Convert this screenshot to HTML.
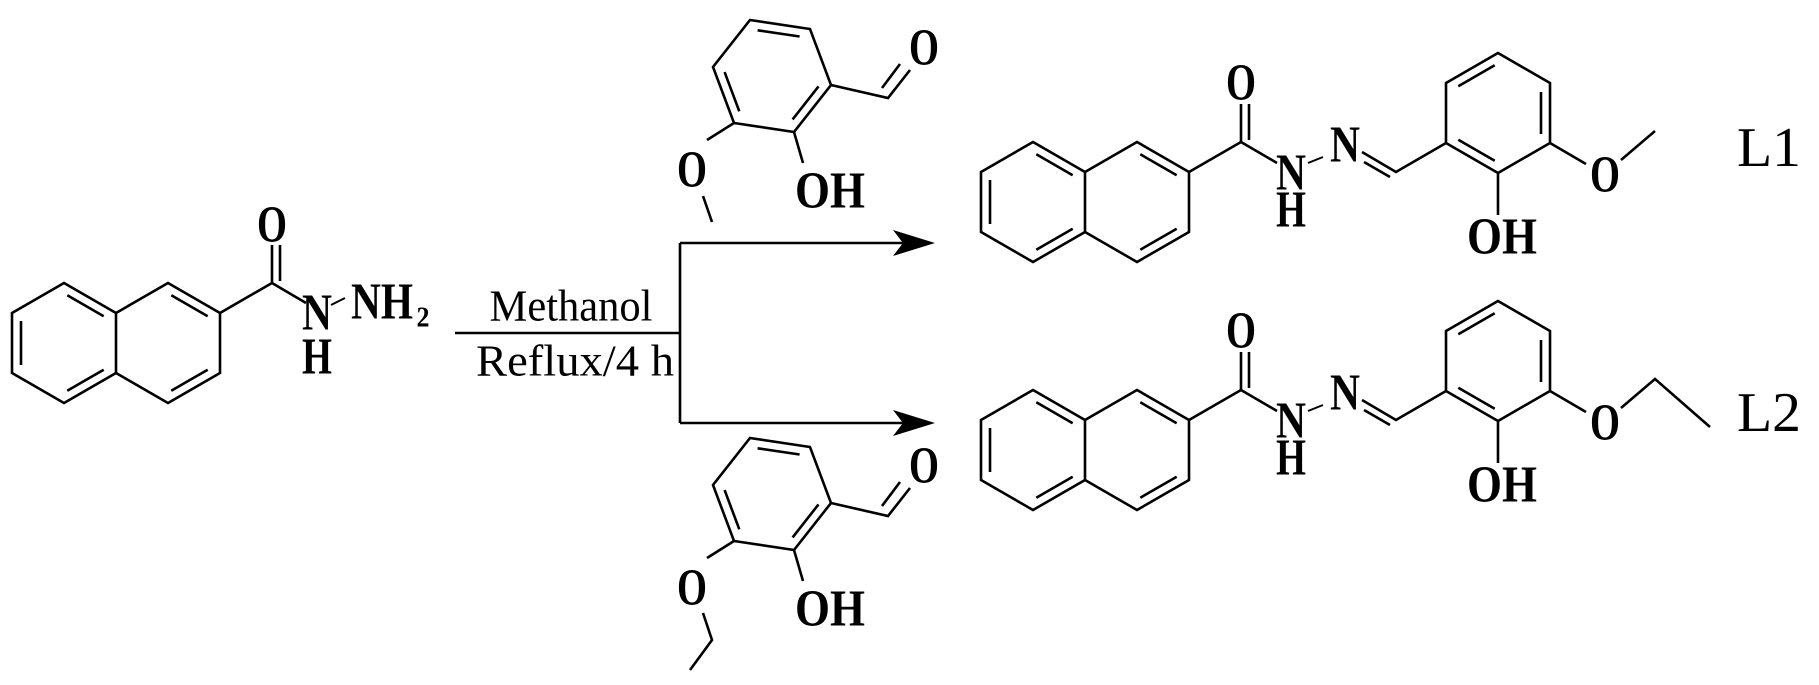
<!DOCTYPE html>
<html><head><meta charset="utf-8"><style>
html,body{margin:0;padding:0;background:#fff;}
svg{display:block;}
text{font-family:"Liberation Serif",serif;fill:#000;text-anchor:middle;dominant-baseline:central;}
</style></head><body>
<svg width="1819" height="685" viewBox="0 0 1819 685" xmlns="http://www.w3.org/2000/svg">
<g stroke="#000" stroke-width="2.6" fill="none" stroke-linejoin="miter">
<g transform="translate(64,343)">
  <path d="M0,-60 L52,-30 L104,-60 L156,-30 L156,30 L104,60 L52,30 L0,60 L-52,30 L-52,-30 Z M52,-30 L52,30"/>
  <path d="M-43,-22 L-43,22 M3.3,-47.7 L39.7,-26.7 M3.3,47.7 L39.7,26.7 M107.3,-47.7 L143.7,-26.7 M107.3,47.7 L143.7,26.7"/>
  <path d="M156,-30 L208,-60 L208,-98 M216,-62 L216,-98 M208,-60 L242,-40"/>
  <path d="M267,-38 L281,-45" stroke-width="2"/>
</g>
<path d="M455,333 L680,333 M680,243 L680,423 M680,243 L905,243 M680,423 L905,423"/>
</g>
<polygon points="935,243 893,230 903,243 893,256" fill="#000"/>
<polygon points="935,423 893,410 903,423 893,436" fill="#000"/>
<g font-weight="bold" font-size="52">
<text x="272" y="225" textLength="30" lengthAdjust="spacingAndGlyphs">O</text>
<text x="317" y="313" textLength="30" lengthAdjust="spacingAndGlyphs">N</text>
<text x="317" y="357" textLength="30" lengthAdjust="spacingAndGlyphs">H</text>
<text x="382" y="302" textLength="62" lengthAdjust="spacingAndGlyphs">NH</text>
<text x="423" y="318" font-size="28" textLength="13" lengthAdjust="spacingAndGlyphs">2</text>
</g>
<text x="571" y="306" font-size="44" textLength="163" lengthAdjust="spacingAndGlyphs">Methanol</text>
<text x="575" y="361" font-size="44" textLength="198" lengthAdjust="spacingAndGlyphs">Reflux/4 h</text>

<g>
<g stroke="#000" stroke-width="2.6" fill="none">
  <path d="M750,20 L810,29 L831,85 L794,132 L734,123 L713,67 Z"/>
  <path d="M757.6,30.3 L799.6,36.5 M724.6,72.1 L739.3,111.3 M818.5,86.4 L792.6,119.4"/>
  <path d="M831,85 L888,98 L910,70 M882,88 L900,64"/>
  <path d="M794,132 L803,163 M734,123 L707,140"/>
  <path d="M703,196 L712,222"/>
</g>
<g font-weight="bold" font-size="52">
<text x="924" y="48" textLength="30" lengthAdjust="spacingAndGlyphs">O</text>
<text x="830" y="191" textLength="70" lengthAdjust="spacingAndGlyphs">OH</text>
<text x="692" y="170" textLength="30" lengthAdjust="spacingAndGlyphs">O</text>
</g>
</g>
<g transform="translate(0,418)">
<g stroke="#000" stroke-width="2.6" fill="none">
  <path d="M750,20 L810,29 L831,85 L794,132 L734,123 L713,67 Z"/>
  <path d="M757.6,30.3 L799.6,36.5 M724.6,72.1 L739.3,111.3 M818.5,86.4 L792.6,119.4"/>
  <path d="M831,85 L888,98 L910,70 M882,88 L900,64"/>
  <path d="M794,132 L803,163 M734,123 L707,140"/>
  <path d="M703,195 L712,222 L690,252"/>
</g>
<g font-weight="bold" font-size="52">
<text x="924" y="48" textLength="30" lengthAdjust="spacingAndGlyphs">O</text>
<text x="830" y="191" textLength="70" lengthAdjust="spacingAndGlyphs">OH</text>
<text x="692" y="170" textLength="30" lengthAdjust="spacingAndGlyphs">O</text>
</g>
</g>

<g transform="translate(1033,202)">
<g stroke="#000" stroke-width="2.6" fill="none">
  <path d="M0,-60 L52,-30 L104,-60 L156,-30 L156,30 L104,60 L52,30 L0,60 L-52,30 L-52,-30 Z M52,-30 L52,30"/>
  <path d="M-43,-22 L-43,22 M3.3,-47.7 L39.7,-26.7 M3.3,47.7 L39.7,26.7 M107.3,-47.7 L143.7,-26.7 M107.3,47.7 L143.7,26.7"/>
  <path d="M156,-30 L208,-60 L208,-98 M216,-62 L216,-98 M208,-60 L244,-39"/>
  <path d="M275,-39 L290,-45" stroke-width="2"/>
</g>
<g font-weight="bold" font-size="52">
<text x="208" y="-119" textLength="30" lengthAdjust="spacingAndGlyphs">O</text>
<text x="258" y="-29" textLength="30" lengthAdjust="spacingAndGlyphs">N</text>
<text x="258" y="8" textLength="30" lengthAdjust="spacingAndGlyphs">H</text>
</g>
</g>
<g transform="translate(1041,202)">
<g stroke="#000" stroke-width="2.6" fill="none">
  <path d="M321,-50 L355,-30 L405,-59 M323,-40 L349,-25"/>
  <path d="M405,-59 L405,-119 L457,-149 L509,-119 L509,-59 L457,-29 Z"/>
  <path d="M417.3,-115.7 L453.7,-136.7 M500,-110 L500,-68 M417.3,-62.3 L453.7,-41.3"/>
  <path d="M457,-29 L457,13 M509,-59 L545,-38 M580,-42 L614,-71"/>
</g>
<g font-weight="bold" font-size="52">
<text x="304" y="-57" textLength="30" lengthAdjust="spacingAndGlyphs">N</text>
<text x="461" y="35" textLength="70" lengthAdjust="spacingAndGlyphs">OH</text>
<text x="564" y="-27" textLength="30" lengthAdjust="spacingAndGlyphs">O</text>
</g>
</g>
<text x="1769" y="148" font-size="56" textLength="64" lengthAdjust="spacingAndGlyphs">L1</text>

<g transform="translate(1033,450)">
<g stroke="#000" stroke-width="2.6" fill="none">
  <path d="M0,-60 L52,-30 L104,-60 L156,-30 L156,30 L104,60 L52,30 L0,60 L-52,30 L-52,-30 Z M52,-30 L52,30"/>
  <path d="M-43,-22 L-43,22 M3.3,-47.7 L39.7,-26.7 M3.3,47.7 L39.7,26.7 M107.3,-47.7 L143.7,-26.7 M107.3,47.7 L143.7,26.7"/>
  <path d="M156,-30 L208,-60 L208,-98 M216,-62 L216,-98 M208,-60 L244,-39"/>
  <path d="M275,-39 L290,-45" stroke-width="2"/>
</g>
<g font-weight="bold" font-size="52">
<text x="208" y="-119" textLength="30" lengthAdjust="spacingAndGlyphs">O</text>
<text x="258" y="-29" textLength="30" lengthAdjust="spacingAndGlyphs">N</text>
<text x="258" y="8" textLength="30" lengthAdjust="spacingAndGlyphs">H</text>
</g>
</g>
<g transform="translate(1041,450)">
<g stroke="#000" stroke-width="2.6" fill="none">
  <path d="M321,-50 L355,-30 L405,-59 M323,-40 L349,-25"/>
  <path d="M405,-59 L405,-119 L457,-149 L509,-119 L509,-59 L457,-29 Z"/>
  <path d="M417.3,-115.7 L453.7,-136.7 M500,-110 L500,-68 M417.3,-62.3 L453.7,-41.3"/>
  <path d="M457,-29 L457,13 M509,-59 L545,-38 M580,-42 L614,-71 L669,-23"/>
</g>
<g font-weight="bold" font-size="52">
<text x="304" y="-57" textLength="30" lengthAdjust="spacingAndGlyphs">N</text>
<text x="461" y="35" textLength="70" lengthAdjust="spacingAndGlyphs">OH</text>
<text x="564" y="-27" textLength="30" lengthAdjust="spacingAndGlyphs">O</text>
</g>
</g>
<text x="1769" y="413" font-size="56" textLength="64" lengthAdjust="spacingAndGlyphs">L2</text>
</svg>
</body></html>
